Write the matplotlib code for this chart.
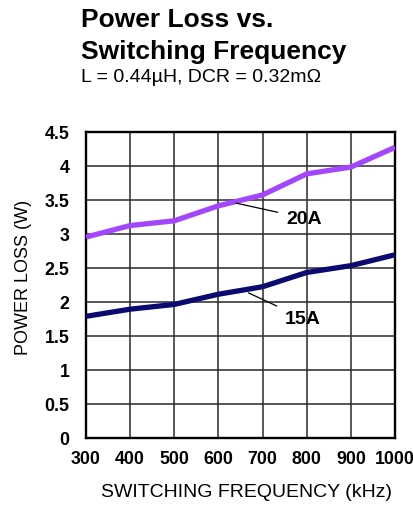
import matplotlib
matplotlib.use("Agg")
import matplotlib.pyplot as plt

freq_khz = [300, 400, 500, 600, 700, 800, 900, 1000]
loss_20a = [2.95, 3.12, 3.19, 3.41, 3.57, 3.88, 3.98, 4.27]
loss_15a = [1.785, 1.89, 1.96, 2.11, 2.22, 2.43, 2.53, 2.69]
x_ticks = [300, 400, 500, 600, 700, 800, 900, 1000]
y_ticks = [0, 0.5, 1, 1.5, 2, 2.5, 3, 3.5, 4, 4.5]
y_tick_labels = ["0", "0.5", "1", "1.5", "2", "2.5", "3", "3.5", "4", "4.5"]

plt.rcParams['font.family'] = ['Liberation Sans', 'DejaVu Sans']

W, H = 414, 506
fig = plt.figure(figsize=(W / 100, H / 100), dpi=100)
ax = fig.add_axes([86 / W, 1 - 438.7 / H, (395 - 86) / W, (438.7 - 132.7) / H])

ax.plot(freq_khz, loss_20a, color='#A347FF', lw=3.8, solid_joinstyle='round',
        solid_capstyle='butt', zorder=3)
ax.plot(freq_khz, loss_15a, color='#0A0A70', lw=3.8, solid_joinstyle='round',
        solid_capstyle='butt', zorder=3)

ax.set_xlim(300, 1000)
ax.set_ylim(0, 4.5)
ax.set_xticks(x_ticks)
ax.set_xticklabels([str(v) for v in x_ticks], fontsize=12.8, fontweight='bold')
ax.set_yticks(y_ticks)
ax.set_yticklabels(y_tick_labels, fontsize=12.8, fontweight='bold')
ax.tick_params(length=0, pad=9)
ax.tick_params(axis='y', pad=12)
ax.grid(True, color='#2a2a2a', lw=1.1, zorder=1)
for s in ax.spines.values():
    s.set_linewidth(1.7)
    s.set_color('black')

ax.set_xlabel('SWITCHING FREQUENCY (kHz)', fontsize=14)
ax.xaxis.set_label_coords(0.518, -0.148)
ax.set_ylabel('POWER LOSS (W)', fontsize=13)
ax.yaxis.set_label_coords(-0.174, 0.527)

# leader annotations
ax.annotate('20A', xy=(640, 3.45), xytext=(753, 3.23), fontsize=14, fontweight='bold',
            va='center', ha='left',
            arrowprops=dict(arrowstyle='-', color='black', lw=0.9, shrinkA=4, shrinkB=0),
            zorder=4)
ax.annotate('15A', xy=(668, 2.13), xytext=(750, 1.76), fontsize=14, fontweight='bold',
            va='center', ha='left',
            arrowprops=dict(arrowstyle='-', color='black', lw=0.9, shrinkA=4, shrinkB=0),
            zorder=4)

fig.text(81 / W, 1 - 27.3 / H, 'Power Loss vs.', fontsize=19, fontweight='bold',
         va='baseline', ha='left')
fig.text(81 / W, 1 - 59.3 / H, 'Switching Frequency', fontsize=19, fontweight='bold',
         va='baseline', ha='left')
fig.text(81 / W, 1 - 81.7 / H, 'L = 0.44µH, DCR = 0.32mΩ', fontsize=14,
         va='baseline', ha='left')

fig.savefig('out.png', dpi=100)
